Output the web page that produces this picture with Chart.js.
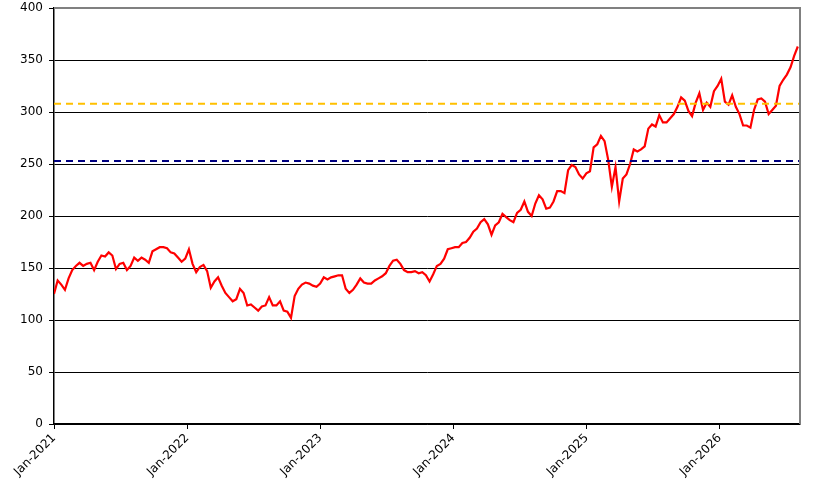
<!DOCTYPE html>
<html>
<head>
<meta charset="utf-8">
<script src="https://cdn.jsdelivr.net/npm/chart.js@4.4.1/dist/chart.umd.min.js"></script>
<style>
  html, body { margin: 0; padding: 0; background: #fff; }
</style>
</head>
<body>
<canvas id="myChart" width="824" height="502"></canvas>
<script>
// one reading every 10 days, starting Jan 1 2021
var startDate = Date.UTC(2021, 0, 1);
var stepDays = 10;
var endDay = 2046;
var prices = [
    125, 138, 134, 129, 140, 148, 152, 155, 152, 154,
    155, 148, 156, 162, 161, 165, 162, 149, 154, 155,
    148, 152, 160, 157, 160, 158, 155, 166, 168, 170,
    170, 169, 165, 164, 160, 156, 159, 168, 154, 146,
    151, 153, 147, 131, 137, 141, 133, 126, 122, 118,
    120, 130, 126, 114, 115, 112, 109, 113, 114, 122,
    114, 114, 118, 109, 108, 102, 123, 130, 134, 136,
    135, 133, 132, 135, 141, 139, 141, 142, 143, 143,
    130, 126, 129, 134, 140, 136, 135, 135, 138, 140,
    142, 145, 152, 157, 158, 154, 148, 146, 146, 147,
    145, 146, 143, 137, 144, 152, 154, 159, 168, 169,
    170, 170, 174, 175, 179, 185, 188, 194, 197, 192,
    182, 191, 194, 202, 199, 196, 194, 203, 206, 214,
    204, 200, 212, 220, 216, 207, 208, 214, 224, 224,
    222, 244, 249, 247, 240, 236, 241, 243, 266, 269,
    277, 272, 254, 228, 247, 214, 236, 240, 250, 264,
    262, 264, 267, 284, 288, 286, 297, 290, 290, 294,
    298, 305, 314, 311, 301, 296, 309, 318, 302, 309,
    305, 320, 325, 332, 310, 307, 316, 305, 298, 287,
    287, 285, 302, 312, 313, 310, 298, 302, 306, 325,
    331, 336, 343, 354, 363
];
var tickYears = [2021, 2022, 2023, 2024, 2025, 2026];
var upperLevel = 308;
var lowerLevel = 253;

function dayOfYearStart(y) {
    return (Date.UTC(y, 0, 1) - startDate) / 86400000;
}

var pricePoints = prices.map(function(v, i) { return {x: i * stepDays, y: v}; });

var frame = {
    id: 'frame',
    afterDatasetsDraw: function(chart) {
        var a = chart.chartArea, c = chart.ctx;
        c.save();
        c.strokeStyle = '#808080';
        c.lineWidth = 2;
        c.beginPath();
        c.moveTo(a.left, a.top);
        c.lineTo(a.right, a.top);
        c.lineTo(a.right, a.bottom);
        c.stroke();
        c.restore();
    }
};

var config = {
    type: 'line',
    data: {
        datasets: [{
            data: [{x: 0, y: upperLevel}, {x: endDay, y: upperLevel}],
            borderColor: '#FFC000',
            borderWidth: 2,
            borderDash: [7, 5],
            pointRadius: 0
        }, {
            data: [{x: 0, y: lowerLevel}, {x: endDay, y: lowerLevel}],
            borderColor: '#000080',
            borderWidth: 2,
            borderDash: [7, 5],
            pointRadius: 0
        }, {
            data: pricePoints,
            borderColor: '#FF0000',
            borderWidth: 2.2,
            pointRadius: 0,
            tension: 0
        }]
    },
    options: {
        responsive: false,
        animation: false,
        layout: { padding: { top: 8, right: 24, left: 0, bottom: 0 } },
        plugins: { legend: { display: false }, tooltip: { enabled: false } },
        scales: {
            x: {
                type: 'linear',
                min: 0,
                max: endDay,
                afterBuildTicks: function(scale) {
                    scale.ticks = tickYears.map(function(y) { return {value: dayOfYearStart(y)}; });
                },
                afterFit: function(scale) { scale.height = 78; },
                ticks: {
                    maxRotation: 45,
                    minRotation: 45,
                    autoSkip: false,
                    padding: 2,
                    color: '#000',
                    font: { family: 'DejaVu Sans', size: 12 },
                    callback: function(v, i) { return 'Jan-' + tickYears[i]; }
                },
                grid: { drawOnChartArea: false, drawTicks: true, tickLength: 5, color: '#000' },
                border: { display: true, color: '#000', width: 1.5 }
            },
            y: {
                min: 0,
                max: 400,
                afterFit: function(scale) {
                    scale.width = 54;
                    scale.paddingTop = 0;
                    scale.paddingBottom = 0;
                },
                ticks: {
                    stepSize: 50,
                    padding: 6,
                    color: '#000',
                    font: { family: 'DejaVu Sans', size: 12 }
                },
                grid: {
                    color: function(ctx) { return ctx.tick && ctx.tick.value === 400 ? '#808080' : '#000'; },
                    tickColor: '#000',
                    tickLength: 5,
                    lineWidth: 1
                },
                border: { display: true, color: '#000', width: 1.5 }
            }
        }
    },
    plugins: [frame]
};

var ctx = document.getElementById('myChart').getContext('2d');
window.myLine = new Chart(ctx, config);
</script>
</body>
</html>
